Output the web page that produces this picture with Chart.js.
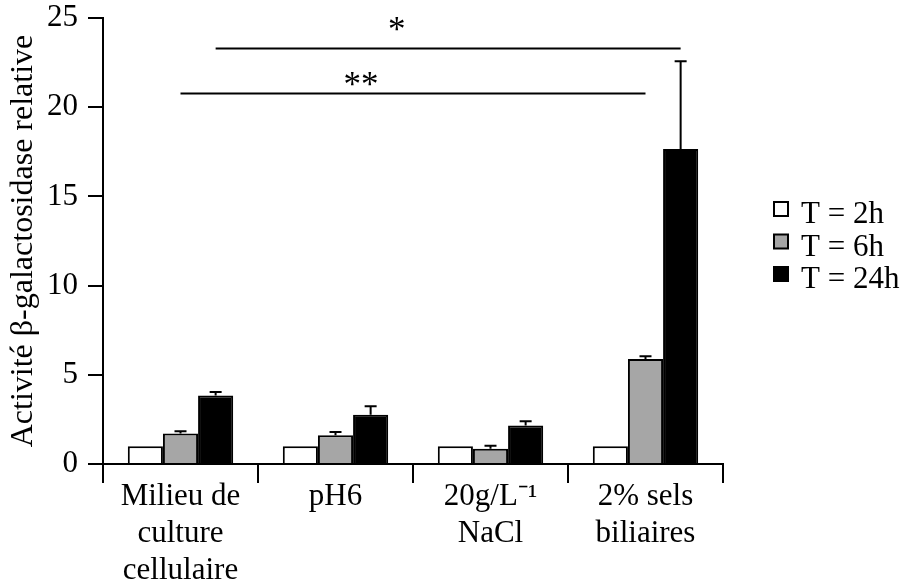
<!DOCTYPE html>
<html>
<head>
<meta charset="utf-8">
<script src="https://cdn.jsdelivr.net/npm/chart.js@4"></script>
<style>
html,body{margin:0;padding:0;background:#fff;}
canvas{display:block;}
</style>
</head>
<body>
<canvas id="c" width="905" height="586"></canvas>
<script>
// ---- data ----
const categories = [['Milieu de','culture','cellulaire'], 'pH6', ['20g/L\u207B\u00B9','NaCl'], ['2% sels','biliaires']];
const seriesNames = ['T = 2h', 'T = 6h', 'T = 24h'];
const t2h  = [1, 1, 1, 1];
const t6h  = [1.71, 1.61, 0.85, 5.89];
const t24h = [3.84, 2.76, 2.16, 17.66];
const err2h  = [0, 0, 0, 0];
const err6h  = [0.13, 0.19, 0.17, 0.15];
const err24h = [0.20, 0.48, 0.24, 4.91];
const yTicks = [0, 5, 10, 15, 20, 25];
const yTitle = 'Activit\u00e9 \u03b2-galactosidase relative';
const sigLabels = ['*', '**'];
const sigLevels = [23.32, 20.80];
const sigFromSeries = [2, 1];
const sigFromCat = [0, 0];
const sigToSeries = [2, 1];
const sigToCat = [3, 3];

// ---- style ----
const FONT = "'Liberation Serif', 'Times New Roman', serif";
const fills = ['#ffffff', '#a6a6a6', '#000000'];
const errs = [err2h, err6h, err24h];

const overlay = {
  id: 'overlay',
  afterDatasetsDraw(chart) {
    const ctx = chart.ctx;
    const y = chart.scales.y, x = chart.scales.x;
    ctx.save();
    ctx.strokeStyle = '#000';
    ctx.lineWidth = 2;
    // error bars (upper only)
    chart.data.datasets.forEach((ds, di) => {
      const meta = chart.getDatasetMeta(di);
      ds.data.forEach((v, i) => {
        const e = errs[di][i];
        if (!e) return;
        const bx = meta.data[i].x;
        const y0 = y.getPixelForValue(v);
        const y1 = y.getPixelForValue(v + e);
        ctx.beginPath();
        ctx.moveTo(bx, y0); ctx.lineTo(bx, y1);
        ctx.moveTo(bx - 6, y1); ctx.lineTo(bx + 6, y1);
        ctx.stroke();
      });
    });
    // significance lines
    const labelIdx = [1.395, 1.165];
    const labelRise = [10, 0];
    ctx.fillStyle = '#000';
    ctx.font = '35px ' + FONT;
    ctx.textAlign = 'center';
    ctx.textBaseline = 'alphabetic';
    sigLabels.forEach((lab, k) => {
      const xa = chart.getDatasetMeta(sigFromSeries[k]).data[sigFromCat[k]].x;
      const xb = chart.getDatasetMeta(sigToSeries[k]).data[sigToCat[k]].x;
      const yy = Math.round(y.getPixelForValue(sigLevels[k])) + 0.5;
      ctx.beginPath();
      ctx.moveTo(xa, yy); ctx.lineTo(xb, yy);
      ctx.stroke();
      ctx.fillText(lab, x.getPixelForValue(labelIdx[k]), yy - labelRise[k] + 2);
    });
    // legend
    const rows = [209, 241.5, 274];
    ctx.font = '31px ' + FONT;
    ctx.textAlign = 'left';
    chart.data.datasets.forEach((ds, di) => {
      const cy = rows[di];
      ctx.fillStyle = fills[di];
      ctx.fillRect(774, cy - 7, 14, 14);
      ctx.strokeRect(774, cy - 7, 14, 14);
      ctx.fillStyle = '#000';
      ctx.fillText(ds.label, 801, cy + 14);
    });
    ctx.restore();
  }
};

new Chart(document.getElementById('c'), {
  type: 'bar',
  data: {
    labels: categories,
    datasets: [
      { label: seriesNames[0], data: t2h,  backgroundColor: fills[0], borderColor: '#000', borderWidth: 2 },
      { label: seriesNames[1], data: t6h,  backgroundColor: fills[1], borderColor: '#000', borderWidth: 2 },
      { label: seriesNames[2], data: t24h, backgroundColor: fills[2], borderColor: '#000', borderWidth: 2 }
    ]
  },
  options: {
    responsive: false,
    animation: false,
    devicePixelRatio: 1,
    categoryPercentage: 0.68,
    barPercentage: 1.0,
    layout: { padding: { top: 0, right: 182, left: 0, bottom: 0 } },
    plugins: { legend: { display: false }, tooltip: { enabled: false } },
    scales: {
      x: {
        grid: { offset: true, drawOnChartArea: false, drawTicks: true, tickLength: 19, color: '#000', lineWidth: 2 },
        border: { display: true, color: '#000', width: 2 },
        ticks: { color: '#000', font: { family: FONT, size: 31, lineHeight: 1.18 }, padding: -4, maxRotation: 0, autoSkip: false },
        afterFit(s) { s.height = 122; s.paddingLeft = 0; s.paddingRight = 0; }
      },
      y: {
        min: 0, max: 25,
        afterBuildTicks(s) { s.ticks = yTicks.map(v => ({ value: v })); },
        grid: { drawOnChartArea: false, drawTicks: true, tickLength: 15, color: '#000', lineWidth: 2 },
        border: { display: true, color: '#000', width: 2 },
        ticks: { color: '#000', font: { family: FONT, size: 31 }, padding: 10 },
        title: { display: true, text: yTitle, color: '#000', font: { family: FONT, size: 32, lineHeight: 1.2 }, padding: { top: 4, bottom: 0 } },
        afterFit(s) { s.width = 103; s.paddingTop = 18; s.paddingBottom = 0; }
      }
    }
  },
  plugins: [overlay]
});
</script>
</body>
</html>
